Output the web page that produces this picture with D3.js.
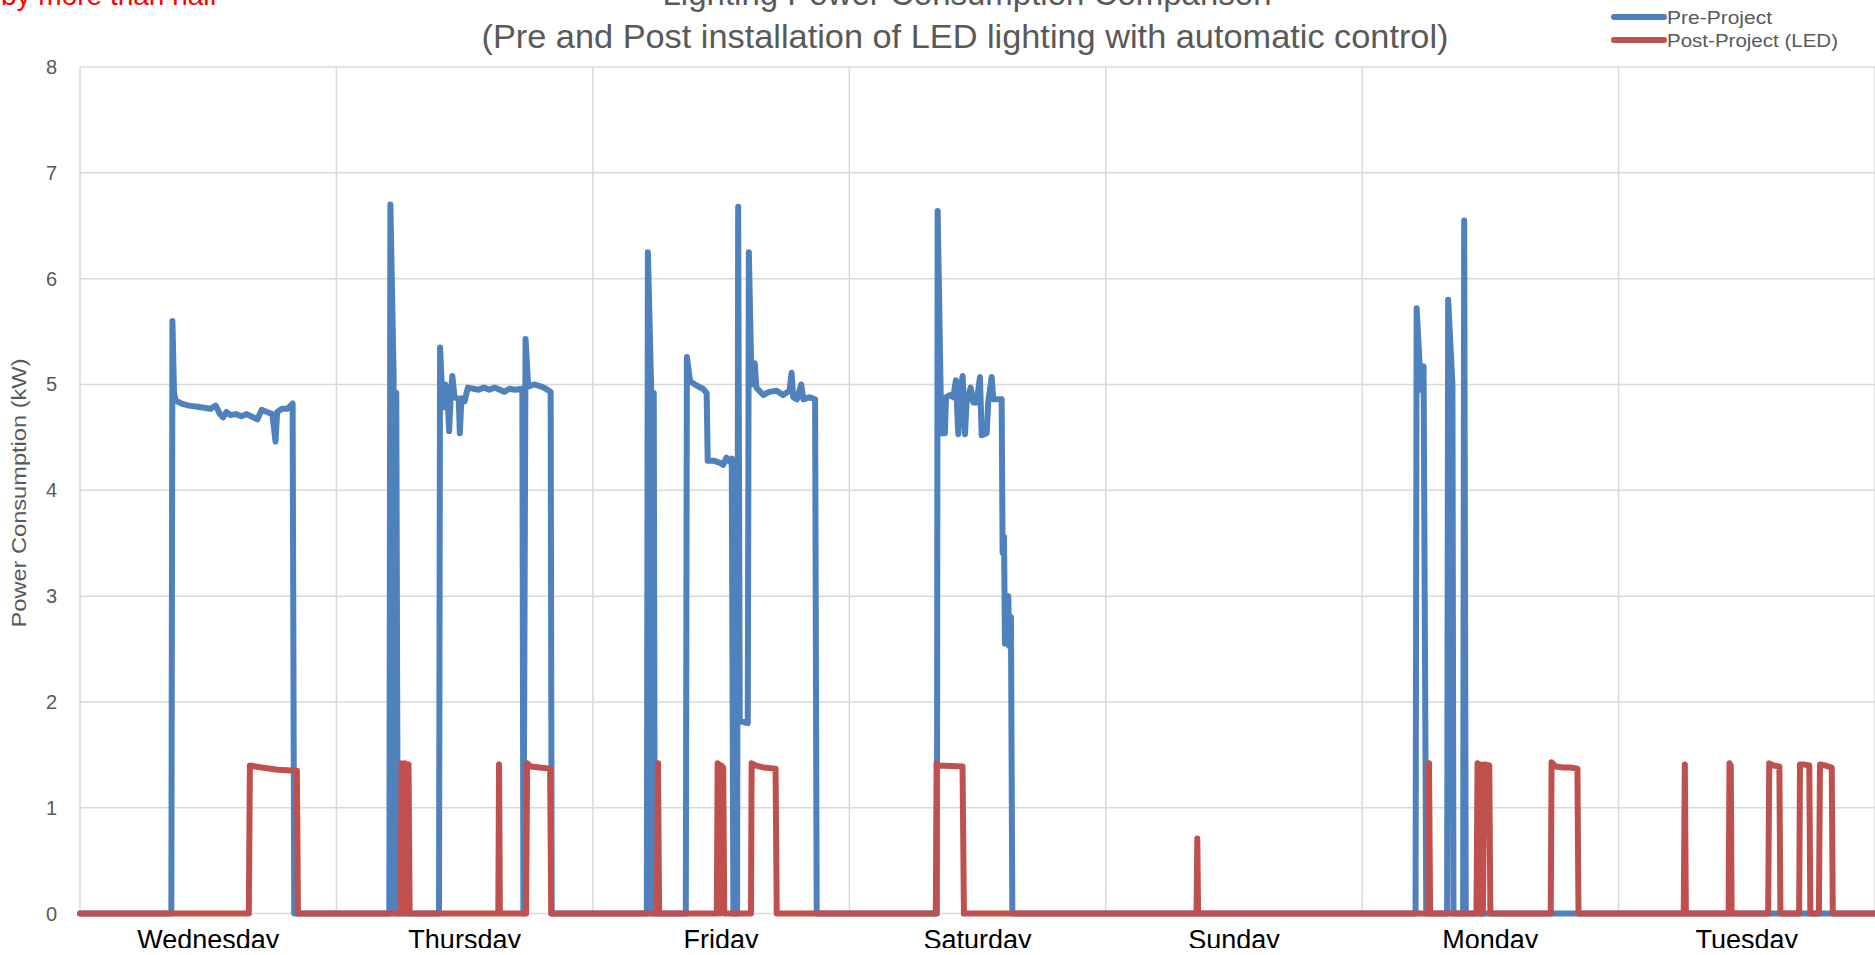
<!DOCTYPE html>
<html><head><meta charset="utf-8">
<script src="https://cdn.jsdelivr.net/npm/d3@7"></script>
<style>html,body{margin:0;padding:0;background:#fff;overflow:hidden}</style>
</head><body>
<svg id="chart" width="1875" height="955"></svg>
<script>
// ---------- data ----------
const days = ["Wednesday","Thursday","Friday","Saturday","Sunday","Monday","Tuesday"];
const yTicks = [0,1,2,3,4,5,6,7,8];
const seriesNames = ["Pre-Project","Post-Project (LED)"];
const titleLines = ["Lighting Power Consumption Comparison","(Pre and Post installation of LED lighting with automatic control)"];
const noteText = "by more than half";
const yAxisTitle = "Power Consumption (kW)";

// [hours since Wednesday 00:00, kW]
const preProject = [
  [0,0],[8.55,0],[8.65,5.6],[8.8,4.92],[8.95,4.85],[9.5,4.82],[10.2,4.8],[11.0,4.79],[11.6,4.78],[12.2,4.77],[12.7,4.8],[13.1,4.72],[13.4,4.69],[13.7,4.74],[14.1,4.71],[14.6,4.72],[15.1,4.7],[15.6,4.72],[16.2,4.69],[16.6,4.67],[17.0,4.76],[17.5,4.74],[18.0,4.72],[18.3,4.46],[18.45,4.74],[18.9,4.77],[19.4,4.77],[19.9,4.82],[20.05,0],
  [28.95,0],[29.05,6.7],[29.35,5.1],[29.45,0],[29.6,4.92],[29.75,0],
  [33.6,0],[33.7,5.35],[33.95,4.78],[34.2,5.0],[34.4,4.88],[34.55,4.56],[34.7,4.9],[34.85,5.08],[35.05,4.88],[35.45,4.86],[35.55,4.54],[35.7,4.87],[36.0,4.84],[36.3,4.97],[36.8,4.96],[37.3,4.95],[37.8,4.97],[38.3,4.95],[38.8,4.97],[39.3,4.95],[39.7,4.93],[40.2,4.96],[40.7,4.95],[41.4,4.96],[41.5,0],[41.7,5.43],[41.95,4.98],[42.5,5.0],[43.2,4.98],[43.6,4.96],[44.05,4.93],[44.15,0],
  [53.05,0],[53.15,6.25],[53.45,5.0],[53.55,0],[53.7,4.92],[53.8,0],
  [56.7,0],[56.8,5.26],[57.1,5.03],[57.7,4.99],[58.3,4.96],[58.65,4.92],[58.75,4.28],[59.3,4.28],[59.9,4.26],[60.2,4.24],[60.5,4.31],[60.8,4.27],[61.0,4.3],[61.15,0],[61.5,0],[61.6,6.68],[61.75,1.82],[62.5,1.8],[62.6,6.25],[62.85,5.0],[63.15,5.2],[63.3,4.97],[63.95,4.9],[64.5,4.93],[65.2,4.94],[65.8,4.9],[66.4,4.94],[66.6,5.11],[66.75,4.88],[67.1,4.86],[67.5,5.0],[67.7,4.86],[68.3,4.88],[68.8,4.86],[68.95,0],
  [80.2,0],[80.27,6.64],[80.55,4.95],[80.64,4.54],[80.95,4.54],[81.05,4.88],[81.42,4.9],[81.73,4.88],[81.98,5.04],[82.2,4.53],[82.42,4.95],[82.61,5.08],[82.83,4.53],[82.98,4.83],[83.36,4.97],[83.61,4.83],[83.92,4.83],[84.23,5.07],[84.39,4.52],[84.86,4.54],[85.0,4.83],[85.32,5.07],[85.48,4.86],[86.26,4.86],[86.35,3.41],[86.48,3.56],[86.57,2.55],[86.88,3.0],[86.97,2.53],[87.13,2.8],[87.26,0],
  [125.0,0],[125.1,5.72],[125.5,4.95],[125.75,5.17],[126.0,0],
  [127.95,0],[128.05,5.8],[128.45,5.0],[128.55,0],
  [129.45,0],[129.55,6.55],[129.7,0],
  [168,0]
];
const postProject = [
  [0,0],[15.8,0],[15.9,1.4],[17,1.38],[18.5,1.36],[20.3,1.35],[20.4,0],
  [30.0,0],[30.1,1.42],[30.25,1.41],[30.3,0],[30.4,1.42],[30.5,0],[30.6,1.41],[30.75,1.41],[30.85,0],
  [39.15,0],[39.22,1.41],[39.3,0],
  [41.75,0],[41.85,1.42],[42.2,1.39],[43.0,1.38],[44.0,1.37],[44.1,0],
  [54.0,0],[54.1,1.42],[54.2,0],
  [59.6,0],[59.68,1.42],[59.8,1.41],[59.9,0],[60.0,1.4],[60.2,1.38],[60.3,0],
  [62.8,0],[62.86,1.42],[63.2,1.4],[64.0,1.38],[65.1,1.37],[65.21,0],
  [80.1,0],[80.17,1.42],[80.4,1.4],[82.6,1.39],[82.73,0],
  [104.5,0],[104.57,0.71],[104.65,0],
  [126.18,0],[126.26,1.42],[126.36,0],
  [130.7,0],[130.8,1.42],[130.95,1.4],[131.05,0],[131.15,1.41],[131.3,0],[131.45,1.41],[131.9,1.4],[132.0,0],
  [137.65,0],[137.73,1.43],[138.1,1.39],[138.8,1.38],[139.5,1.38],[140.15,1.37],[140.25,0],
  [150.1,0],[150.2,1.41],[150.3,0],
  [154.3,0],[154.38,1.42],[154.5,1.4],[154.58,0],
  [158.0,0],[158.1,1.42],[158.5,1.4],[159.05,1.39],[159.15,0],
  [160.9,0],[160.98,1.41],[161.3,1.41],[161.85,1.4],[161.95,0],
  [162.75,0],[162.85,1.41],[163.3,1.4],[163.95,1.38],[164.05,0],
  [168,0]
];

// ---------- layout ----------
const W = 1875, H = 955;
const colors = ["#4F81BD", "#C0504D"];
const svg = d3.select("#chart");
const x = d3.scaleLinear().domain([0, 168]).range([80, 1875]);
const y = d3.scaleLinear().domain([0, 8]).range([913.6, 67]);
const dayScale = d3.scaleBand().domain(days).range([80, 1875]).paddingInner(0).paddingOuter(0);
const font = "'Liberation Sans', Arial, sans-serif";

// gridlines
svg.append("g").selectAll("line").data(yTicks).join("line")
  .attr("x1", x(0)).attr("x2", x(168))
  .attr("y1", d => y(d)).attr("y2", d => y(d))
  .attr("stroke", "#D9D9D9").attr("stroke-width", 1.5);
svg.append("g").selectAll("line").data(d3.range(0, days.length + 1)).join("line")
  .attr("x1", d => x(d * 24)).attr("x2", d => x(d * 24))
  .attr("y1", y(8)).attr("y2", y(0))
  .attr("stroke", "#D9D9D9").attr("stroke-width", 1.5);

// y tick labels
svg.append("g").selectAll("text").data(yTicks).join("text")
  .attr("x", 57).attr("y", d => y(d)).attr("dy", "0.35em")
  .attr("text-anchor", "end").attr("font-family", font).attr("font-size", 20)
  .attr("fill", "#595959").text(d => d);

// category labels (clipped like the reference)
svg.append("clipPath").attr("id", "labclip").append("rect")
  .attr("x", 0).attr("y", 0).attr("width", W).attr("height", 948);
svg.append("g").attr("clip-path", "url(#labclip)").selectAll("text").data(days).join("text")
  .attr("x", d => dayScale(d) + dayScale.bandwidth() / 2).attr("y", 949)
  .attr("text-anchor", "middle").attr("font-family", font).attr("font-size", 27)
  .attr("fill", "#000").text(d => d);

// lines
const line = d3.line().x(d => x(d[0])).y(d => y(d[1]));
[preProject, postProject].forEach((s, i) => {
  svg.append("path").datum(s).attr("d", line)
    .attr("fill", "none").attr("stroke", colors[i]).attr("stroke-width", 6)
    .attr("stroke-linejoin", "round").attr("stroke-linecap", "round");
});

// y axis title
svg.append("text").attr("transform", "translate(26,493) rotate(-90)")
  .attr("text-anchor", "middle").attr("font-family", font).attr("font-size", 21)
  .attr("textLength", 269).attr("lengthAdjust", "spacingAndGlyphs")
  .attr("fill", "#595959").text(yAxisTitle);

// titles
svg.append("text").attr("x", 967).attr("y", 5).attr("text-anchor", "middle")
  .attr("font-family", font).attr("font-size", 33).attr("fill", "#595959").text(titleLines[0]);
svg.append("text").attr("x", 965).attr("y", 48).attr("text-anchor", "middle")
  .attr("font-family", font).attr("font-size", 33).attr("textLength", 967)
  .attr("lengthAdjust", "spacingAndGlyphs").attr("fill", "#595959").text(titleLines[1]);

// red note
svg.append("text").attr("x", 1).attr("y", 5).attr("font-family", font).attr("font-size", 28)
  .attr("fill", "#FF0000").text(noteText);

// legend
const lg = svg.append("g");
const legW = [105, 171];
seriesNames.forEach((n, i) => {
  const ly = 17 + i * 23;
  lg.append("line").attr("x1", 1614).attr("x2", 1664).attr("y1", ly).attr("y2", ly)
    .attr("stroke", colors[i]).attr("stroke-width", 6).attr("stroke-linecap", "round");
  lg.append("text").attr("x", 1667).attr("y", ly + 7).attr("font-family", font).attr("font-size", 18)
    .attr("textLength", legW[i]).attr("lengthAdjust", "spacingAndGlyphs")
    .attr("fill", "#595959").text(n);
});
</script>
</body></html>
